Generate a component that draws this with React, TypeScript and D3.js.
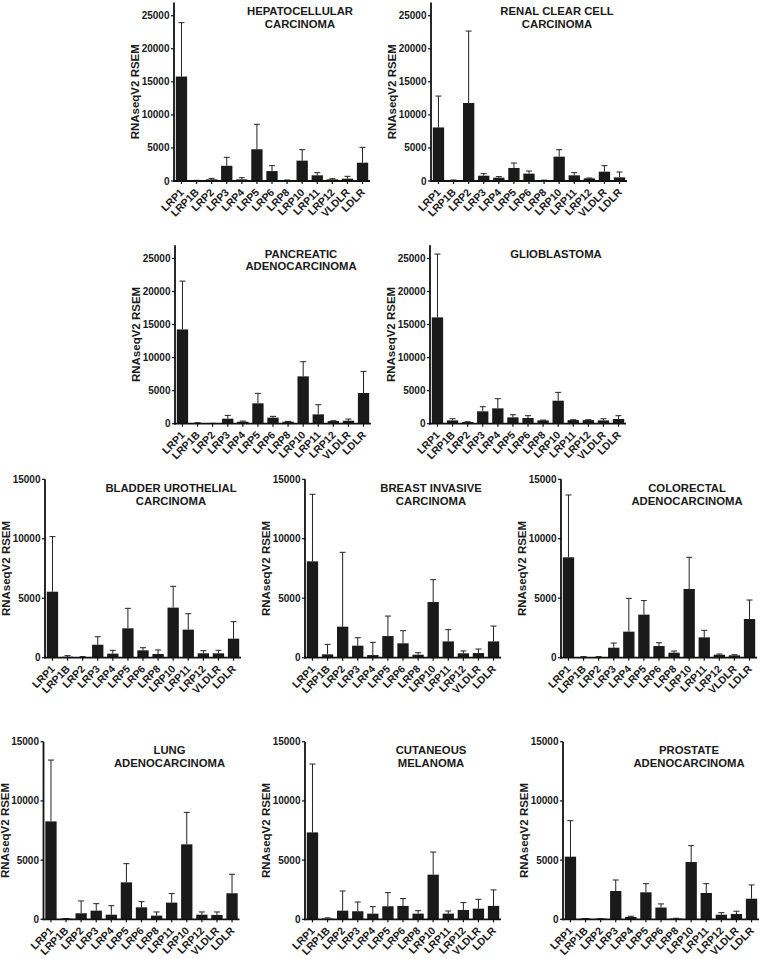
import React from "react";
import * as d3 from "d3";

const genes = ["LRP1", "LRP1B", "LRP2", "LRP3", "LRP4", "LRP5", "LRP6", "LRP8", "LRP10", "LRP11", "LRP12", "VLDLR", "LDLR"];
const genesLung = ["LRP1", "LRP1B", "LRP2", "LRP3", "LRP4", "LRP5", "LRP6", "LRP8", "LRP11", "LRP10", "LRP12", "VLDLR", "LDLR"];

const ticksTop = [0, 5000, 10000, 15000, 20000, 25000];
const ticksBottom = [0, 5000, 10000, 15000];

const hepMean = [15800, 60, 250, 2300, 250, 4800, 1500, 80, 3080, 860, 250, 350, 2770];
const hepSd = [8150, 40, 150, 1280, 250, 3770, 820, 70, 1660, 400, 100, 360, 2320];

const renalMean = [8100, 100, 11800, 800, 500, 1970, 1110, 100, 3680, 860, 400, 1410, 550];
const renalSd = [4750, 50, 10880, 310, 160, 750, 400, 30, 1060, 400, 50, 910, 810];

const pancMean = [14260, 100, 50, 760, 300, 3080, 910, 300, 7160, 1410, 400, 450, 4640];
const pancSd = [7310, 50, 10, 500, 100, 1510, 200, 50, 2220, 1460, 50, 250, 3270];

const glioMean = [16080, 500, 250, 1870, 2320, 960, 860, 500, 3480, 550, 550, 500, 710];
const glioSd = [9580, 250, 50, 700, 1460, 400, 350, 50, 1260, 50, 50, 250, 500];

const bladderMean = [5550, 80, 60, 1090, 340, 2470, 620, 310, 4210, 2360, 370, 370, 1600];
const bladderSd = [4630, 90, 30, 670, 280, 1680, 220, 340, 1790, 1340, 220, 250, 1430];

const breastMean = [8100, 280, 2610, 1010, 220, 1820, 1210, 250, 4680, 1370, 370, 390, 1370];
const breastSd = [5640, 840, 6250, 670, 1070, 1680, 1060, 170, 1880, 990, 200, 340, 1290];

const colorectalMean = [8440, 60, 60, 840, 2190, 3620, 980, 420, 5780, 1710, 250, 200, 3250];
const colorectalSd = [5240, 30, 30, 390, 2800, 1180, 280, 140, 2660, 590, 60, 50, 1600];

const lungMean = [8270, 60, 510, 730, 390, 3120, 1010, 310, 1410, 6330, 390, 370, 2200];
const lungSd = [5180, 10, 1040, 590, 760, 1580, 480, 310, 760, 2700, 230, 250, 1600];

const melanomaMean = [7340, 60, 730, 680, 480, 1100, 1130, 480, 3770, 480, 790, 900, 1130];
const melanomaSd = [5770, 60, 1660, 780, 590, 1150, 620, 250, 1910, 220, 620, 790, 1350];

const prostateMean = [5290, 60, 60, 2390, 200, 2280, 990, 60, 4840, 2220, 390, 450, 1740];
const prostateSd = [3040, 5, 5, 930, 60, 730, 310, 30, 1380, 790, 170, 230, 1160];

type Panel = {
  title: string[];
  cats: string[];
  mean: number[];
  sd: number[];
  x0: number;
  top: number;
  bottom: number;
  max: number;
  ticks: number[];
};

const panels: Panel[] = [
  { title: ["HEPATOCELLULAR", "CARCINOMA"], cats: genes, mean: hepMean, sd: hepSd, x0: 174, top: 2.5, bottom: 181, max: 27000, ticks: ticksTop },
  { title: ["RENAL CLEAR CELL", "CARCINOMA"], cats: genes, mean: renalMean, sd: renalSd, x0: 431, top: 2.5, bottom: 181, max: 27000, ticks: ticksTop },
  { title: ["PANCREATIC", "ADENOCARCINOMA"], cats: genes, mean: pancMean, sd: pancSd, x0: 175, top: 245.2, bottom: 423.7, max: 27000, ticks: ticksTop },
  { title: ["GLIOBLASTOMA"], cats: genes, mean: glioMean, sd: glioSd, x0: 430, top: 245.2, bottom: 423.7, max: 27000, ticks: ticksTop },
  { title: ["BLADDER UROTHELIAL", "CARCINOMA"], cats: genes, mean: bladderMean, sd: bladderSd, x0: 45, top: 479.3, bottom: 657.7, max: 15000, ticks: ticksBottom },
  { title: ["BREAST INVASIVE", "CARCINOMA"], cats: genes, mean: breastMean, sd: breastSd, x0: 305, top: 479.3, bottom: 657.7, max: 15000, ticks: ticksBottom },
  { title: ["COLORECTAL", "ADENOCARCINOMA"], cats: genes, mean: colorectalMean, sd: colorectalSd, x0: 561, top: 479.3, bottom: 657.7, max: 15000, ticks: ticksBottom },
  { title: ["LUNG", "ADENOCARCINOMA"], cats: genesLung, mean: lungMean, sd: lungSd, x0: 43.5, top: 741.7, bottom: 919.3, max: 15000, ticks: ticksBottom },
  { title: ["CUTANEOUS", "MELANOMA"], cats: genes, mean: melanomaMean, sd: melanomaSd, x0: 305, top: 741.7, bottom: 919.3, max: 15000, ticks: ticksBottom },
  { title: ["PROSTATE", "ADENOCARCINOMA"], cats: genes, mean: prostateMean, sd: prostateSd, x0: 563, top: 741.7, bottom: 919.3, max: 15000, ticks: ticksBottom },
];

const FONT = "'Liberation Sans', Arial, sans-serif";
const PLOT_W = 196;

function PanelChart({ p }: { p: Panel }) {
  const x = d3.scaleBand<string>().domain(p.cats).range([p.x0, p.x0 + PLOT_W]).paddingInner(0.25).paddingOuter(0.12);
  const y = d3.scaleLinear().domain([0, p.max]).range([p.bottom, p.top]);
  const bw = x.bandwidth();
  const cap = 3;
  const midY = (p.top + p.bottom) / 2;
  return (
    <g>
      {p.cats.map((c, i) => {
        const cx = (x(c) as number) + bw / 2;
        const yt = y(p.mean[i]);
        const ye = y(p.mean[i] + p.sd[i]);
        return (
          <g key={c}>
            <line x1={cx} x2={cx} y1={yt} y2={ye} stroke="#222" strokeWidth={1} />
            <line x1={cx - cap} x2={cx + cap} y1={ye} y2={ye} stroke="#222" strokeWidth={1} />
            <rect x={x(c) as number} y={yt} width={bw} height={p.bottom - yt} fill="#1a1a1a" />
          </g>
        );
      })}
      {/* y axis */}
      <line x1={p.x0} x2={p.x0} y1={p.top} y2={p.bottom + 0.9} stroke="#111" strokeWidth={1.8} />
      {p.ticks.map((t) => (
        <g key={t}>
          <line x1={p.x0 - 3} x2={p.x0} y1={y(t)} y2={y(t)} stroke="#111" strokeWidth={1.2} />
          <text x={p.x0 - 4.5} y={y(t)} dy="0.35em" textAnchor="end" fontFamily={FONT} fontWeight="bold" fontSize={10} fill="#1a1a1a">
            {t}
          </text>
        </g>
      ))}
      {/* x axis */}
      <line x1={p.x0 - 0.9} x2={p.x0 + PLOT_W} y1={p.bottom} y2={p.bottom} stroke="#111" strokeWidth={1.8} />
      {p.cats.map((c) => {
        const cx = (x(c) as number) + bw / 2;
        return (
          <g key={"t" + c}>
            <line x1={cx} x2={cx} y1={p.bottom} y2={p.bottom + 3} stroke="#111" strokeWidth={1.2} />
            <text
              transform={`translate(${cx + 3},${p.bottom + 12}) rotate(-45)`}
              textAnchor="end"
              fontFamily={FONT}
              fontWeight="bold"
              fontSize={10.5}
              fill="#1a1a1a"
            >
              {c}
            </text>
          </g>
        );
      })}
      {/* y label */}
      <text
        transform={`translate(${p.x0 - 35},${midY}) rotate(-90)`}
        textAnchor="middle"
        fontFamily={FONT}
        fontWeight="bold"
        fontSize={11.5}
        fill="#1a1a1a"
      >
        RNAseqV2 RSEM
      </text>
      {/* title */}
      {p.title.map((t, i) => (
        <text key={t} x={p.x0 + 126} y={p.top + 12.5 + i * 12.7} textAnchor="middle" fontFamily={FONT} fontWeight="bold" fontSize={11.3} fill="#1a1a1a">
          {t}
        </text>
      ))}
    </g>
  );
}

export default function App() {
  return (
    <svg width={761} height={959} style={{ position: "absolute", left: 0, top: 0, background: "#fff" }}>
      <rect width={761} height={959} fill="#fff" />
      {panels.map((p, i) => (
        <PanelChart key={i} p={p} />
      ))}
    </svg>
  );
}
